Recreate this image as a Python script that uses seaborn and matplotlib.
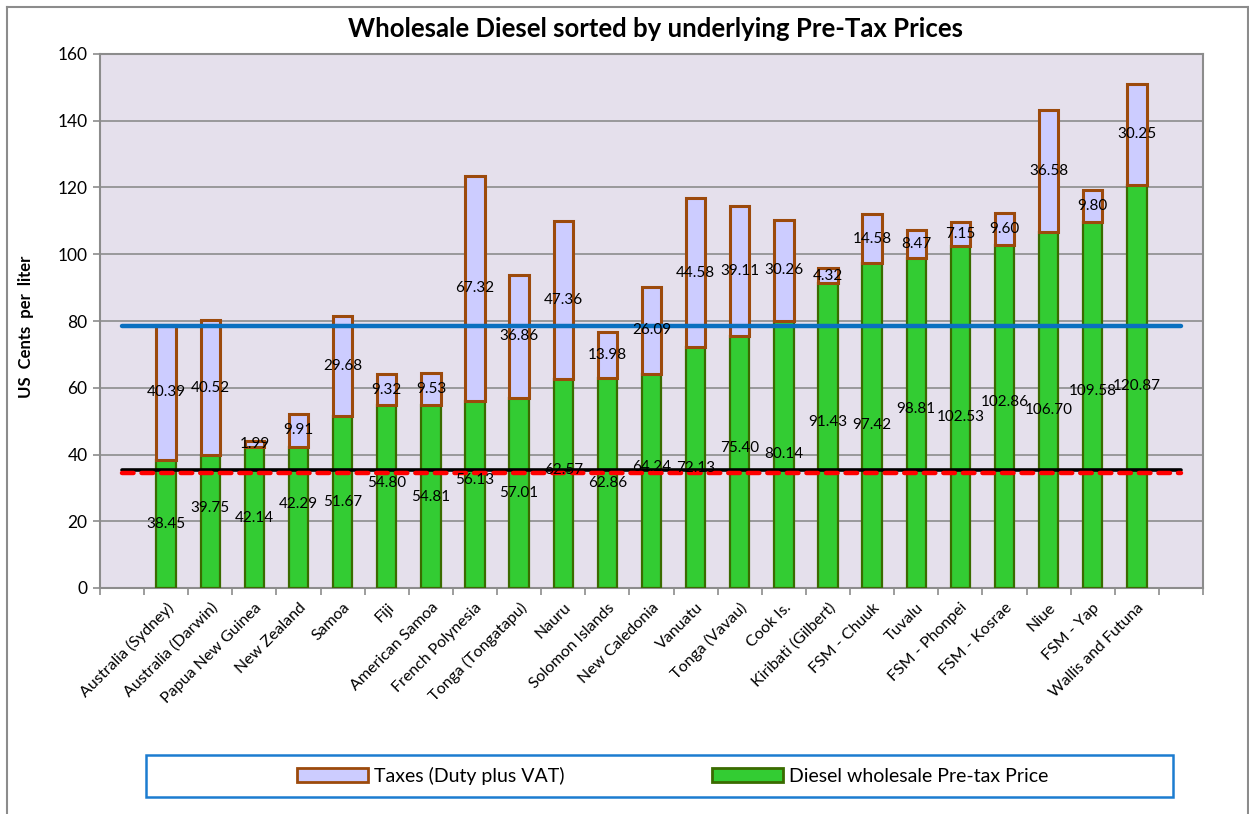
import pandas as pd
import matplotlib
matplotlib.use('Agg')
import matplotlib.pyplot as plt
from matplotlib.patches import Patch, Rectangle
from matplotlib.lines import Line2D
import seaborn as sns

countries = ['Australia (Sydney)', 'Australia (Darwin)', 'Papua New Guinea', 'New Zealand',
             'Samoa', 'Fiji', 'American Samoa', 'French Polynesia', 'Tonga (Tongatapu)',
             'Nauru', 'Solomon Islands', 'New Caledonia', 'Vanuatu', 'Tonga (Vavau)',
             'Cook Is.', 'Kiribati (Gilbert)', 'FSM - Chuuk', 'Tuvalu', 'FSM - Phonpei',
             'FSM - Kosrae', 'Niue', 'FSM - Yap', 'Wallis and Futuna']
pretax = [38.45, 39.75, 42.14, 42.29, 51.67, 54.80, 54.81, 56.13, 57.01, 62.57, 62.86,
          64.24, 72.13, 75.40, 80.14, 91.43, 97.42, 98.81, 102.53, 102.86, 106.70,
          109.58, 120.87]
taxes = [40.39, 40.52, 1.99, 9.91, 29.68, 9.32, 9.53, 67.32, 36.86, 47.36, 13.98,
         26.09, 44.58, 39.11, 30.26, 4.32, 14.58, 8.47, 7.15, 9.60, 36.58, 9.80, 30.25]
# reference lines (run across the full category axis incl. the empty end slots)
blue_level = 78.4
black_level = 35.3
red_level = 34.4

# empty category slot at each end, as in the original chart
order = ['_start'] + countries + ['_end']
tick_labels = [''] + countries + ['']

df = pd.DataFrame({'country': countries, 'pretax': pretax, 'taxes': taxes})

plt.rcParams['font.family'] = ['Lato', 'DejaVu Sans']

fig = plt.figure(figsize=(12.49, 8.14), dpi=100)
ax = fig.add_axes([100 / 1249, 1 - 588 / 814, 1103 / 1249, 534 / 814])
ax.set_facecolor('#E5E0EC')

sns.barplot(data=df, x='country', y='pretax', order=order, width=0.44,
            color='#33CC33', edgecolor='#3A6B00', linewidth=1.6,
            saturation=1, errorbar=None, ax=ax, zorder=3)
sns.barplot(data=df, x='country', y='taxes', order=order, width=0.44,
            bottom=df['pretax'].values,
            color='#CCCCFF', edgecolor='#9C4A0C', linewidth=2.2,
            saturation=1, errorbar=None, ax=ax, zorder=3)

# value labels; every other pre-tax label is nudged up so neighbours don't collide
green_lbls = ax.bar_label(ax.containers[0], fmt='%.2f', label_type='center', fontsize=11, zorder=5)
for i, t in enumerate(green_lbls):
    if i % 2:
        t.xyann = (0, 10)
ax.bar_label(ax.containers[1], fmt='%.2f', label_type='center', fontsize=11, zorder=5)

# horizontal reference lines
xs = [0, len(order) - 1]
ax.plot(xs, [blue_level] * 2, color='#0A70C0', lw=3.2, solid_capstyle='round', zorder=4)
ax.plot(xs, [black_level] * 2, color='black', lw=2.6, solid_capstyle='round', zorder=4)
ax.plot(xs, [red_level] * 2, color='#FF0000', lw=3.2, dashes=(2.6, 1.8),
        dash_capstyle='round', zorder=4)

ax.set_xlim(-0.5, len(order) - 0.5)
ax.set_ylim(0, 160)
ax.set_yticks(range(0, 161, 20))
ax.grid(axis='y', color='#8C8C8C', lw=1.2, zorder=0)
ax.set_axisbelow(True)

ax.set_xticks(range(len(order)))
ax.set_xticklabels(tick_labels, rotation=45, ha='right', rotation_mode='anchor', fontsize=11.5)
ax.set_xticks([i - 0.5 for i in range(len(order) + 1)], minor=True)
ax.tick_params(axis='x', which='major', length=0, pad=9)
ax.tick_params(axis='x', which='minor', length=5, width=1.2, color='#8C8C8C')
ax.tick_params(axis='y', length=5, width=1.2, color='#8C8C8C', labelsize=12.5, pad=4)
for s in ax.spines.values():
    s.set_color('#8C8C8C')
    s.set_linewidth(1.5)

ax.set_xlabel('')
ax.set_ylabel('US  Cents  per  liter', fontsize=12, fontweight='bold')
ax.yaxis.set_label_coords(-66 / 1103, 0.49)
fig.text(655 / 1249, 1 - 29 / 814, 'Wholesale Diesel sorted by underlying Pre-Tax Prices',
         ha='center', va='center', fontsize=18.5, fontweight='bold')

# outer chart border
border = dict(color='#8C8C8C', lw=1.5)
fig.add_artist(Line2D([7 / 1249, 7 / 1249], [0, 1 - 7 / 814], **border))
fig.add_artist(Line2D([7 / 1249, 1247.5 / 1249], [1 - 7 / 814, 1 - 7 / 814], **border))
fig.add_artist(Line2D([1247.5 / 1249, 1247.5 / 1249], [0, 1 - 7 / 814], **border))

# legend box
fig.add_artist(Rectangle((146 / 1249, 1 - 797 / 814), 1027 / 1249, 42 / 814,
                         transform=fig.transFigure, fill=False,
                         edgecolor='#1C7CD0', lw=1.8))
handles = [Patch(facecolor='#CCCCFF', edgecolor='#9C4A0C', lw=2, label='Taxes (Duty plus VAT)'),
           Patch(facecolor='#33CC33', edgecolor='#3A6B00', lw=2, label='Diesel wholesale Pre-tax Price')]
fig.legend(handles=handles, loc='center', bbox_to_anchor=(673 / 1249, 1 - 776 / 814),
           ncol=2, frameon=False, fontsize=14, handlelength=3.65, handleheight=0.7,
           handletextpad=0.3, columnspacing=7.6)

fig.savefig('out.png', dpi=100)
